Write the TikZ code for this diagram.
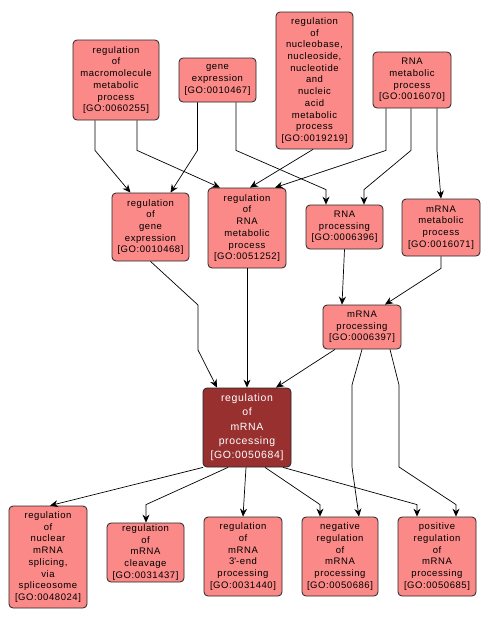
\documentclass[tikz,border=0pt]{standalone}
\usepackage{fontspec}
\setmainfont{Liberation Sans}[LetterSpace=6]
\usetikzlibrary{arrows.meta}
\definecolor{termfill}{RGB}{250,137,135}
\definecolor{focusfill}{RGB}{153,48,48}

\begin{document}
\begin{tikzpicture}[x=1pt,y=-1pt,
    term/.style={draw=black!85, fill=termfill, rounded corners=4pt, align=center,
      inner sep=0pt, line width=0.8pt, font=\fontsize{9.5}{11.7}\selectfont},
    focus/.style={term, fill=focusfill, text=white, font=\fontsize{10.5}{14.3}\selectfont},
    edge/.style={-{Stealth[length=8pt,width=7pt]}, line width=0.7pt}]
    % Page
    \fill[white] (0,0) rectangle (491,622);

    % Top row
    \node[term, minimum width=86pt, minimum height=80pt] (n60255) at (116,80)
      {regulation\\of\\macromolecule\\metabolic\\process\\{[GO:0060255]}};
    \node[term, minimum width=77pt, minimum height=44pt] (n10467) at (217.5,80)
      {gene\\expression\\{[GO:0010467]}};
    \node[term, minimum width=77pt, minimum height=137pt] (n19219) at (314.5,80.5)
      {regulation\\of\\nucleobase,\\nucleoside,\\nucleotide\\and\\nucleic\\acid\\metabolic\\process\\{[GO:0019219]}};
    \node[term, minimum width=78pt, minimum height=56pt] (n16070) at (412,80)
      {RNA\\metabolic\\process\\{[GO:0016070]}};

    % Middle row
    \node[term, minimum width=77pt, minimum height=68pt] (n10468) at (150.5,227)
      {regulation\\of\\gene\\expression\\{[GO:0010468]}};
    \node[term, minimum width=78pt, minimum height=80pt] (n51252) at (247,228)
      {regulation\\of\\RNA\\metabolic\\process\\{[GO:0051252]}};
    \node[term, minimum width=77pt, minimum height=44pt] (n06396) at (344.5,227)
      {RNA\\processing\\{[GO:0006396]}};
    \node[term, minimum width=78pt, minimum height=57pt] (n16071) at (441,227.5)
      {mRNA\\metabolic\\process\\{[GO:0016071]}};
    \node[term, minimum width=78pt, minimum height=44pt] (n06397) at (362,327)
      {mRNA\\processing\\{[GO:0006397]}};

    % Focus term
    \node[focus, minimum width=88pt, minimum height=79pt] (n50684) at (247,427.5)
      {regulation\\of\\mRNA\\processing\\{[GO:0050684]}};

    % Bottom row
    \node[term, minimum width=78pt, minimum height=102pt] (n48024) at (48,557)
      {regulation\\of\\nuclear\\mRNA\\splicing,\\via\\spliceosome\\{[GO:0048024]}};
    \node[term, minimum width=77pt, minimum height=59pt] (n31437) at (145.5,552.5)
      {regulation\\of\\mRNA\\cleavage\\{[GO:0031437]}};
    \node[term, minimum width=78pt, minimum height=79pt] (n31440) at (243,556.5)
      {regulation\\of\\mRNA\\3\textquotesingle-end\\processing\\{[GO:0031440]}};
    \node[term, minimum width=76pt, minimum height=79pt] (n50686) at (340,556.5)
      {negative\\regulation\\of\\mRNA\\processing\\{[GO:0050686]}};
    \node[term, minimum width=78pt, minimum height=79pt] (n50685) at (437,556.5)
      {positive\\regulation\\of\\mRNA\\processing\\{[GO:0050685]}};

    % Edges from the top row
    \draw[edge] ([xshift=-21pt]n60255.south) -- ++(0,30) -- ([xshift=-20pt]n10468.north);
    \draw[edge] ([xshift=21pt]n60255.south) -- ++(0,30) -- ([xshift=-27pt]n51252.north);
    \draw[edge] ([xshift=-20pt]n10467.south) -- ++(0,48) -- ([xshift=20pt]n10468.north);
    \draw[edge] ([xshift=18.5pt]n10467.south) -- ++(0,48)
      -- ([xshift=-18.5pt,yshift=15pt]n06396.north) -- ([xshift=-18.5pt]n06396.north);
    \draw[edge] ([xshift=-1.5pt]n19219.south) -- ([xshift=3pt]n51252.north);
    \draw[edge] ([xshift=-26pt]n16070.south) -- ++(0,42) -- ([xshift=28pt]n51252.north);
    \draw[edge] ([xshift=-1pt]n16070.south) -- ++(0,42)
      -- ([xshift=19.5pt,yshift=15pt]n06396.north) -- ([xshift=19.5pt]n06396.north);
    \draw[edge] ([xshift=25pt]n16070.south) -- ++(0,42) -- (n16071.north);

    % Edges from the middle row
    \draw[edge] (n10468.south) -- (198,305) -- (198,350) -- ([xshift=-30pt]n50684.north);
    \draw[edge] (n51252.south) -- (n50684.north);
    \draw[edge] (n06396.south) -- ([xshift=-20pt]n06397.north);
    \draw[edge] (n16071.south) -- ++(0,12) -- ([xshift=23pt]n06397.north);
    \draw[edge] ([xshift=-27pt]n06397.south) -- ([xshift=29pt]n50684.north);
    \draw[edge] (n06397.south) -- (352,385) -- (352,467) -- ([xshift=19pt]n50686.north);
    \draw[edge] ([xshift=28pt]n06397.south) -- (399,385) -- (399,467)
      -- ([xshift=19pt,yshift=12pt]n50685.north) -- ([xshift=19pt]n50685.north);

    % Edges from the focus term
    \draw[edge] ([xshift=-44pt]n50684.south) -- ([xshift=2pt]n48024.north);
    \draw[edge] ([xshift=-19pt]n50684.south) -- ([xshift=0.5pt,yshift=18pt]n31437.north)
      -- ([xshift=0.5pt]n31437.north);
    \draw[edge] ([xshift=-1pt]n50684.south) -- (n31440.north);
    \draw[edge] ([xshift=18pt]n50684.south) -- ([xshift=-20pt,yshift=12pt]n50686.north)
      -- ([xshift=-20pt]n50686.north);
    \draw[edge] ([xshift=36pt]n50684.south) -- ([xshift=-20pt,yshift=12pt]n50685.north)
      -- ([xshift=-20pt]n50685.north);
\end{tikzpicture}
\end{document}
